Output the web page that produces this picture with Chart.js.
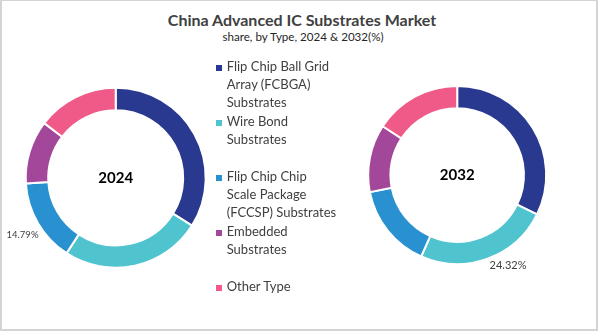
<!DOCTYPE html>
<html><head><meta charset="utf-8">
<script src="https://cdn.jsdelivr.net/npm/chart.js@4.4.1/dist/chart.umd.min.js"></script>
<style>
html,body{margin:0;padding:0;background:#fff;}
body{width:600px;height:332px;position:relative;overflow:hidden;font-family:Lato,"Noto Sans",sans-serif;}
#frame{position:absolute;left:0;top:0;width:594px;height:328px;border-style:solid;border-color:#d4d4d4;border-width:1px 2px 2px 2px;box-sizing:content-box;}
#title{position:absolute;left:2px;top:10.2px;width:600px;text-align:center;font-weight:700;font-size:16px;line-height:1.2;color:#404040;}
#subtitle{position:absolute;left:3px;top:30.3px;width:600px;text-align:center;font-size:11.6px;line-height:1.2;color:#262626;}
canvas{position:absolute;}
.item{position:absolute;left:216px;}
.sw{position:absolute;left:0;top:8.2px;width:6px;height:6px;}
.txt{position:absolute;left:10.7px;top:0;font-size:13px;line-height:18.3px;color:#404040;white-space:nowrap;}
</style></head>
<body>
<div id="frame"></div>
<div id="title">China Advanced IC Substrates Market</div>
<div id="subtitle">share, by Type, 2024 &amp; 2032(%)</div>
<canvas id="c1" width="240" height="240" style="left:0px;top:60px;"></canvas>
<canvas id="c2" width="240" height="240" style="left:340px;top:55px;"></canvas>
<div id="legend"></div>
<script>
const categories = [
  ["Flip Chip Ball Grid", "Array (FCBGA)", "Substrates"],
  ["Wire Bond", "Substrates"],
  ["Flip Chip Chip", "Scale Package", "(FCCSP) Substrates"],
  ["Embedded", "Substrates"],
  ["Other Type"]
];
const years = ["2024", "2032"];
const share2024 = [33.9, 25.3, 14.79, 11.4, 14.61];
const share2032 = [32.3, 24.32, 15.3, 12.3, 15.78];
const colors = ["#2A3990", "#4FC4CF", "#2A91D0", "#A3479B", "#EF5A88"];

// HTML legend built from the categories
const legend = document.getElementById('legend');
categories.forEach((lines, i) => {
  const it = document.createElement('div');
  it.className = 'item';
  it.style.top = (56.8 + 55 * i) + 'px';
  const sw = document.createElement('div');
  sw.className = 'sw';
  sw.style.background = colors[i];
  const tx = document.createElement('div');
  tx.className = 'txt';
  tx.innerHTML = lines.map(s => s.replace(/&/g,'&amp;').replace(/</g,'&lt;')).join('<br>');
  it.appendChild(sw); it.appendChild(tx);
  legend.appendChild(it);
});

const centerText = {
  id: 'centerText',
  afterDatasetsDraw(chart, args, opts) {
    const arc = chart.getDatasetMeta(0).data[0];
    const ctx = chart.ctx;
    ctx.save();
    ctx.font = 'bold 15px Lato, "Noto Sans", sans-serif';
    ctx.fillStyle = '#000';
    ctx.textAlign = 'center';
    ctx.textBaseline = 'middle';
    ctx.fillText(opts.text, arc.x, arc.y + 0.5);
    ctx.restore();
  }
};

const outsideLabel = {
  id: 'outsideLabel',
  afterDatasetsDraw(chart, args, opts) {
    const arc = chart.getDatasetMeta(0).data[opts.index];
    const p = arc.getProps(['x', 'y', 'startAngle', 'endAngle', 'outerRadius'], true);
    const mid = (p.startAngle + p.endAngle) / 2;
    const r = p.outerRadius + opts.distance;
    const lx = p.x + Math.cos(mid) * r + opts.dx;
    const ly = p.y + Math.sin(mid) * r + opts.dy;
    const v = chart.data.datasets[0].data[opts.index];
    const ctx = chart.ctx;
    ctx.save();
    ctx.font = opts.size + 'px Lato, "Noto Sans", sans-serif';
    ctx.fillStyle = '#404040';
    ctx.textAlign = 'center';
    ctx.textBaseline = 'middle';
    ctx.fillText(v.toFixed(2) + '%', lx, ly);
    ctx.restore();
  }
};

function makeChart(id, data, year, pad, radius, label) {
  return new Chart(document.getElementById(id), {
    type: 'doughnut',
    data: {
      labels: categories,
      datasets: [{
        data: data,
        backgroundColor: colors,
        borderColor: '#ffffff',
        borderWidth: 2,
        hoverOffset: 0
      }]
    },
    options: {
      responsive: false,
      animation: false,
      radius: radius,
      cutout: '75%',
      layout: { padding: pad },
      events: [],
      plugins: {
        legend: { display: false },
        tooltip: { enabled: false },
        title: { display: false },
        centerText: { text: year },
        outsideLabel: label
      }
    },
    plugins: [centerText, outsideLabel]
  });
}

makeChart('c1', share2024, years[0], { left: 0, right: 8.6, top: 0, bottom: 4.4 }, 90,
  { index: 2, distance: 19, dx: 1, dy: 2, size: 9.5 });
makeChart('c2', share2032, years[1], { left: 0, right: 5.6, top: 0, bottom: 0 }, 89,
  { index: 1, distance: 16, dx: 15, dy: -8, size: 11 });
</script>
</body></html>
